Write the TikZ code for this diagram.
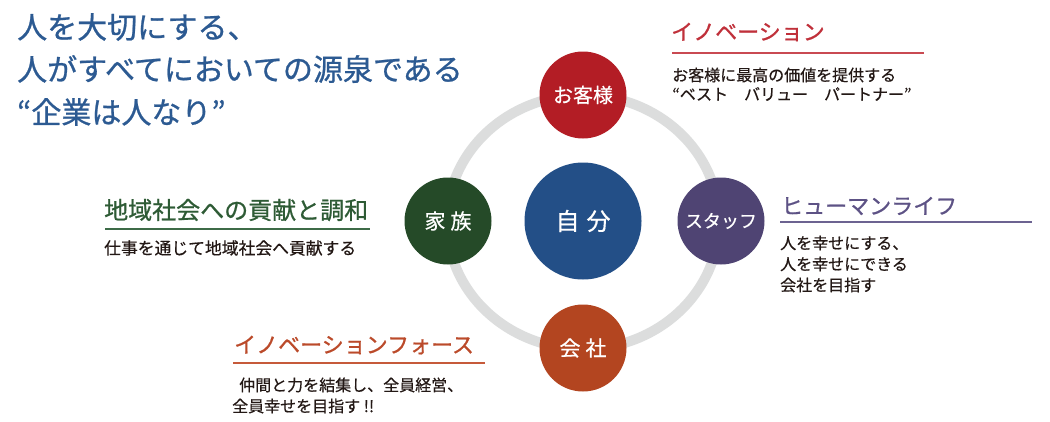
\documentclass[tikz,border=0pt]{standalone}
\usepackage{fontspec}
\setmainfont{Noto Sans CJK JP}
\newfontfamily\bodyfont{Noto Sans CJK JP}[FakeBold=0.5]
\newfontfamily\headfont{Noto Sans CJK JP}[FakeBold=0.8]
\definecolor{titleblue}{HTML}{2C5A92}
\definecolor{ringgray}{HTML}{DCDDDD}
\definecolor{cred}{HTML}{B31D25}
\definecolor{cblue}{HTML}{234F87}
\definecolor{cgreen}{HTML}{254A28}
\definecolor{cpurple}{HTML}{4F4473}
\definecolor{crust}{HTML}{B34520}
\definecolor{hred}{HTML}{C0303A}
\definecolor{hredl}{HTML}{C94A52}
\definecolor{hgreen}{HTML}{2E5B35}
\definecolor{hgreenl}{HTML}{3D6B47}
\definecolor{hpurple}{HTML}{5D5285}
\definecolor{hpurplel}{HTML}{6C6391}
\definecolor{hrust}{HTML}{BB4A2A}
\definecolor{hrustl}{HTML}{C65A3A}
\definecolor{bodytext}{HTML}{231815}
\begin{document}
\begin{tikzpicture}[x=1pt,y=-1pt,
  circ/.style={circle, inner sep=0pt, text=white},
  titletext/.style={anchor=west, inner sep=0pt, text=titleblue, font=\headfont\fontsize{30}{36}\selectfont},
  headtext/.style={anchor=west, inner sep=0pt, font=\headfont\fontsize{22}{26}\selectfont},
  bodyline/.style={anchor=west, inner sep=0pt, text=bodytext, font=\bodyfont\fontsize{16}{20}\selectfont},
  rulestyle/.style={line width=1.8pt},
  ringstyle/.style={draw=ringgray, line width=10pt}
]
\fill[white, use as bounding box] (0,0) rectangle (1050,421);

% title
\node[titletext] (t1) at (17,27) {人を大切にする、};
\node[titletext] (t2) at (17,69) {人がすべてにおいての源泉である};
\node[titletext] (t3) at (17,112) {“企業は人なり”};

% ring
\coordinate (ringc) at (583,222);
\draw[ringstyle] (ringc) ellipse [x radius=136pt, y radius=127pt];

% circles
\node[circ, fill=cblue, minimum size=117pt, font=\bodyfont\fontsize{24}{28}\selectfont] (jibun) at (583,221) {自\hspace{7pt}分};
\node[circ, fill=cred, minimum size=87pt, font=\bodyfont\fontsize{20}{24}\selectfont] (kyaku) at (583,95) {お客様};
\node[circ, fill=cgreen, minimum size=87pt, font=\bodyfont\fontsize{21}{24}\selectfont] (kazoku) at (448,221) {家\hspace{5pt}族};
\node[circ, fill=cpurple, minimum size=87pt, font=\bodyfont\fontsize{18}{22}\selectfont] (staff) at (721,221) {スタッフ};
\node[circ, fill=crust, minimum size=87pt, font=\bodyfont\fontsize{21}{24}\selectfont] (kaisha) at (583,348) {会\hspace{5pt}社};

% innovation
\node[headtext, text=hred] (h1) at (671,32) {イノベーション};
\draw[rulestyle, hredl] (672,53) -- (924,53);
\node[bodyline] (b1a) at (672,75) {お客様に最高の価値を提供する};
\node[bodyline] (b1b) at (672,94) {“ベスト　バリュー　パートナー”};

% community
\node[headtext, text=hgreen, font=\headfont\fontsize{24}{28}\selectfont] (h2) at (104,210) {地域社会への貢献と調和};
\draw[rulestyle, hgreenl] (105,229) -- (370,229);
\node[bodyline, font=\bodyfont\fontsize{16.8}{20}\selectfont] (b2a) at (104,248) {仕事を通じて地域社会へ貢献する};

% human life
\node[headtext, text=hpurple] (h3) at (781,206) {ヒューマンライフ};
\draw[rulestyle, hpurplel] (780,222) -- (1032,222);
\node[bodyline] (b3a) at (780,243) {人を幸せにする、};
\node[bodyline] (b3b) at (780,264) {人を幸せにできる};
\node[bodyline] (b3c) at (780,285) {会社を目指す};

% innovation force
\node[headtext, text=hrust] (h4) at (234,345) {イノベーションフォース};
\draw[rulestyle, hrustl] (233,363) -- (485,363);
\node[bodyline] (b4a) at (239,385) {仲間と力を結集し、全員経営、};
\node[bodyline] (b4b) at (232,406) {全員幸せを目指す !!};
\end{tikzpicture}
\end{document}
